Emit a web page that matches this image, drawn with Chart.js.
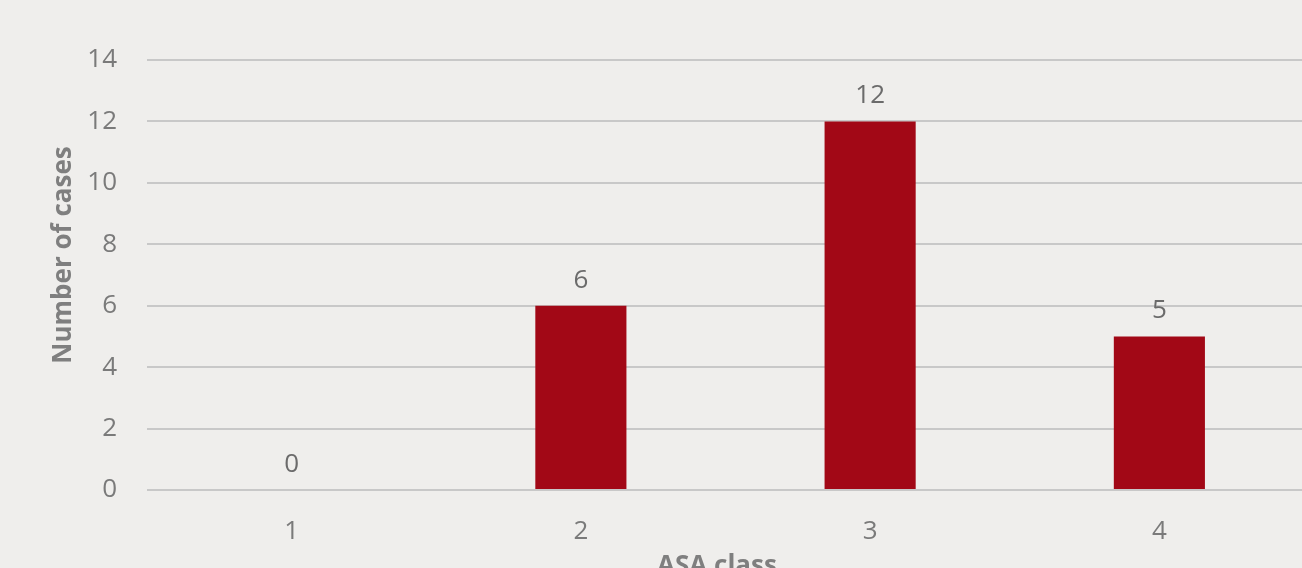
<!DOCTYPE html>
<html><head><meta charset="utf-8">
<script src="https://cdn.jsdelivr.net/npm/chart.js@4"></script>
<style>
html,body{margin:0;padding:0;background:#EFEEEC;overflow:hidden;width:1302px;height:568px;}
#wrap{position:absolute;left:0;top:0;width:1304px;height:600px;}
</style></head>
<body>
<div id="wrap"><canvas id="c"></canvas></div>
<script>
const categories = ['1','2','3','4'];
const cases = [0, 6, 12, 5];
const yTitle = 'Number of cases';
const xTitle = 'ASA class';

const FONT = "'Open Sans', 'Liberation Sans', sans-serif";
const labelPlugin = {
  id: 'valueLabels',
  afterDatasetsDraw(chart) {
    const ctx = chart.ctx;
    const meta = chart.getDatasetMeta(0);
    ctx.save();
    ctx.font = "26px " + FONT;
    ctx.fillStyle = '#6b6b6b';
    ctx.textAlign = 'center';
    ctx.textBaseline = 'alphabetic';
    meta.data.forEach((bar, i) => {
      ctx.fillText(String(cases[i]), bar.x, bar.y - 18);
    });
    // axis titles
    ctx.font = "bold 26px " + FONT;
    ctx.fillStyle = '#7f7f7f';
    ctx.fillText(xTitle, 717, 574);
    ctx.translate(64, 255);
    ctx.rotate(-Math.PI / 2);
    ctx.textBaseline = 'middle';
    ctx.fillText(yTitle, 0, 0);
    ctx.restore();
  }
};

new Chart(document.getElementById('c'), {
  type: 'bar',
  data: {
    labels: categories,
    datasets: [{
      data: cases,
      backgroundColor: '#A20816',
      borderColor: '#A20816',
      borderWidth: 0,
      barPercentage: 1,
      categoryPercentage: 0.315
    }]
  },
  plugins: [labelPlugin],
  options: {
    responsive: true,
    maintainAspectRatio: false,
    animation: false,
    layout: { padding: { top: 60, left: 0, right: 0, bottom: 0 } },
    plugins: { legend: { display: false }, tooltip: { enabled: false } },
    scales: {
      x: {
        grid: { display: false, drawTicks: false },
        border: { display: false },
        ticks: { color: '#7a7a7a', font: { size: 26, family: FONT }, padding: 26 },
        title: { display: false },
        afterFit(s) { s.height = 110; }
      },
      y: {
        min: 0, max: 14,
        ticks: { stepSize: 2, color: '#7a7a7a', font: { size: 26, family: FONT }, padding: 30 },
        grid: { color: '#c8c8c8', lineWidth: 2, drawTicks: false },
        border: { display: false },
        title: { display: false },
        afterFit(s) { s.width = 147; }
      }
    }
  }
});
</script>
</body></html>
